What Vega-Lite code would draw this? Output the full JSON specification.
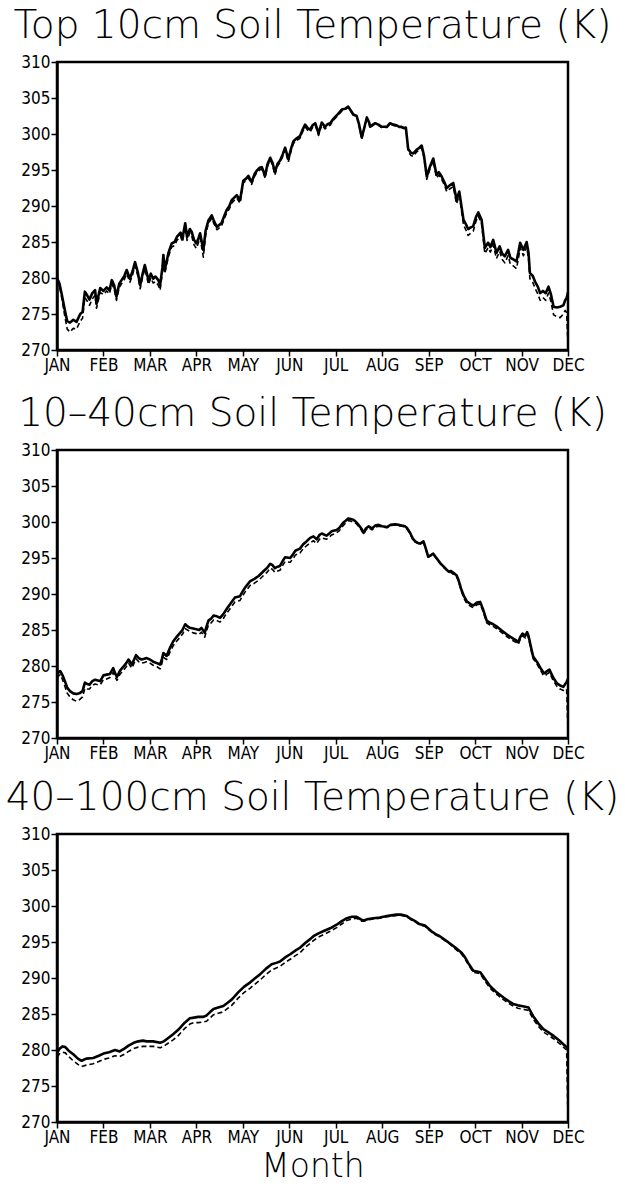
{
  "$schema": "https://vega.github.io/schema/vega-lite/v6.json",
  "background": "white",
  "padding": {"left": 4, "top": 5, "right": 10, "bottom": 0},
  "config": {
    "view": {"stroke": "black", "strokeWidth": 2.5},
    "axis": {
      "grid": false,
      "domainColor": "black",
      "domainWidth": 2.5,
      "tickColor": "black",
      "tickWidth": 1.5,
      "tickSize": 6,
      "labelColor": "black",
      "labelFont": "DejaVu Sans Condensed, Liberation Sans, sans-serif",
      "labelFontSize": 17,
      "labelPadding": 1,
      "titleColor": "black",
      "titleFont": "DejaVu Sans",
      "titleFontWeight": 200,
      "titleFontSize": 33
    },
    "title": {"font": "DejaVu Sans", "fontWeight": 200, "fontSize": 39, "color": "black", "offset": 7, "frame": "group", "anchor": "middle"},
    "line": {"color": "black", "strokeJoin": "round"}
  },
  "spacing": 18,
  "datasets": {
    "top": [
      {"month":0,"temp":280.0,"run":"A"},{"month":0.05,"temp":279.3,"run":"A"},{"month":0.1,"temp":277.8,"run":"A"},{"month":0.17,"temp":275.5,"run":"A"},{"month":0.22,"temp":274.0,"run":"A"},{"month":0.28,"temp":273.8,"run":"A"},{"month":0.35,"temp":274.2,"run":"A"},{"month":0.42,"temp":273.9,"run":"A"},{"month":0.5,"temp":275.0,"run":"A"},{"month":0.55,"temp":275.3,"run":"A"},
      {"month":0.6,"temp":278.1,"run":"A"},{"month":0.65,"temp":277.6,"run":"A"},{"month":0.7,"temp":277.0,"run":"A"},{"month":0.76,"temp":277.9,"run":"A"},{"month":0.82,"temp":278.3,"run":"A"},{"month":0.85,"temp":276.4,"run":"A"},{"month":0.93,"temp":278.6,"run":"A"},{"month":1.0,"temp":278.2,"run":"A"},{"month":1.07,"temp":278.7,"run":"A"},{"month":1.13,"temp":278.3,"run":"A"},
      {"month":1.18,"temp":279.7,"run":"A"},{"month":1.23,"temp":279.0,"run":"A"},{"month":1.28,"temp":277.4,"run":"A"},{"month":1.34,"temp":279.2,"run":"A"},{"month":1.39,"temp":279.7,"run":"A"},{"month":1.45,"temp":280.3,"run":"A"},{"month":1.5,"temp":281.1,"run":"A"},{"month":1.57,"temp":279.9,"run":"A"},{"month":1.63,"temp":281.0,"run":"A"},{"month":1.68,"temp":282.2,"run":"A"},
      {"month":1.74,"temp":280.8,"run":"A"},{"month":1.79,"temp":279.0,"run":"A"},{"month":1.84,"temp":280.5,"run":"A"},{"month":1.89,"temp":281.8,"run":"A"},{"month":1.97,"temp":279.7,"run":"A"},{"month":2.02,"temp":280.6,"run":"A"},{"month":2.07,"temp":279.9,"run":"A"},{"month":2.12,"temp":280.2,"run":"A"},{"month":2.18,"temp":279.7,"run":"A"},{"month":2.22,"temp":279.0,"run":"A"},
      {"month":2.27,"temp":281.5,"run":"A"},{"month":2.29,"temp":283.2,"run":"A"},{"month":2.32,"temp":281.1,"run":"A"},{"month":2.4,"temp":283.5,"run":"A"},{"month":2.47,"temp":284.8,"run":"A"},{"month":2.53,"temp":285.0,"run":"A"},{"month":2.58,"temp":285.7,"run":"A"},{"month":2.66,"temp":286.3,"run":"A"},{"month":2.7,"temp":285.5,"run":"A"},{"month":2.76,"temp":287.6,"run":"A"},
      {"month":2.8,"temp":285.7,"run":"A"},{"month":2.86,"temp":286.8,"run":"A"},{"month":2.9,"temp":286.4,"run":"A"},{"month":2.95,"temp":285.3,"run":"A"},{"month":3.0,"temp":284.8,"run":"A"},{"month":3.05,"temp":285.6,"run":"A"},{"month":3.08,"temp":286.2,"run":"A"},{"month":3.15,"temp":283.9,"run":"A"},{"month":3.2,"temp":286.6,"run":"A"},{"month":3.26,"temp":288.0,"run":"A"},
      {"month":3.33,"temp":288.7,"run":"A"},{"month":3.38,"temp":287.9,"run":"A"},{"month":3.44,"temp":287.1,"run":"A"},{"month":3.54,"temp":287.6,"run":"A"},{"month":3.6,"temp":288.6,"run":"A"},{"month":3.65,"temp":289.4,"run":"A"},{"month":3.71,"temp":290.0,"run":"A"},{"month":3.76,"temp":290.8,"run":"A"},{"month":3.82,"temp":291.2,"run":"A"},{"month":3.87,"temp":291.5,"run":"A"},
      {"month":3.94,"temp":290.8,"run":"A"},{"month":4.01,"temp":293.5,"run":"A"},{"month":4.07,"temp":293.8,"run":"A"},{"month":4.12,"temp":294.2,"run":"A"},{"month":4.19,"temp":293.3,"run":"A"},{"month":4.25,"temp":294.4,"run":"A"},{"month":4.3,"temp":294.9,"run":"A"},{"month":4.36,"temp":295.3,"run":"A"},{"month":4.41,"temp":295.4,"run":"A"},{"month":4.48,"temp":294.2,"run":"A"},
      {"month":4.53,"temp":295.8,"run":"A"},{"month":4.59,"temp":296.7,"run":"A"},{"month":4.64,"temp":296.0,"run":"A"},{"month":4.69,"temp":294.7,"run":"A"},{"month":4.75,"temp":295.9,"run":"A"},{"month":4.8,"temp":296.3,"run":"A"},{"month":4.86,"temp":297.2,"run":"A"},{"month":4.91,"temp":298.1,"run":"A"},{"month":4.98,"temp":296.5,"run":"A"},{"month":5.04,"temp":298.0,"run":"A"},
      {"month":5.09,"temp":299.0,"run":"A"},{"month":5.16,"temp":299.4,"run":"A"},{"month":5.23,"temp":299.7,"run":"A"},{"month":5.28,"temp":300.5,"run":"A"},{"month":5.34,"temp":301.3,"run":"A"},{"month":5.4,"temp":300.8,"run":"A"},{"month":5.45,"temp":300.6,"run":"A"},{"month":5.5,"temp":301.2,"run":"A"},{"month":5.56,"temp":301.5,"run":"A"},{"month":5.6,"temp":300.7,"run":"A"},
      {"month":5.63,"temp":300.1,"run":"A"},{"month":5.7,"temp":301.6,"run":"A"},{"month":5.77,"temp":301.0,"run":"A"},{"month":5.83,"temp":301.4,"run":"A"},{"month":5.88,"temp":301.5,"run":"A"},{"month":5.95,"temp":302.1,"run":"A"},{"month":6.02,"temp":302.6,"run":"A"},{"month":6.08,"temp":303.0,"run":"A"},{"month":6.13,"temp":303.4,"run":"A"},{"month":6.2,"temp":303.5,"run":"A"},
      {"month":6.27,"temp":303.8,"run":"A"},{"month":6.32,"temp":303.3,"run":"A"},{"month":6.38,"temp":302.7,"run":"A"},{"month":6.45,"temp":302.5,"run":"A"},{"month":6.5,"temp":301.4,"run":"A"},{"month":6.56,"temp":299.5,"run":"A"},{"month":6.62,"temp":301.0,"run":"A"},{"month":6.67,"temp":302.3,"run":"A"},{"month":6.72,"temp":301.6,"run":"A"},{"month":6.74,"temp":301.0,"run":"A"},
      {"month":6.8,"temp":301.3,"run":"A"},{"month":6.85,"temp":301.5,"run":"A"},{"month":6.92,"temp":301.3,"run":"A"},{"month":6.99,"temp":301.0,"run":"A"},{"month":7.05,"temp":301.0,"run":"A"},{"month":7.1,"temp":301.0,"run":"A"},{"month":7.17,"temp":301.5,"run":"A"},{"month":7.24,"temp":301.3,"run":"A"},{"month":7.31,"temp":301.2,"run":"A"},{"month":7.37,"temp":301.0,"run":"A"},
      {"month":7.42,"temp":301.0,"run":"A"},{"month":7.48,"temp":300.8,"run":"A"},{"month":7.51,"temp":300.9,"run":"A"},{"month":7.56,"temp":297.9,"run":"A"},{"month":7.62,"temp":297.4,"run":"A"},{"month":7.67,"temp":297.3,"run":"A"},{"month":7.74,"temp":297.8,"run":"A"},{"month":7.8,"temp":298.1,"run":"A"},{"month":7.85,"temp":298.4,"run":"A"},{"month":7.9,"temp":297.0,"run":"A"},
      {"month":7.96,"temp":294.1,"run":"A"},{"month":8.03,"temp":295.5,"run":"A"},{"month":8.1,"temp":296.6,"run":"A"},{"month":8.17,"temp":294.3,"run":"A"},{"month":8.22,"temp":294.7,"run":"A"},{"month":8.28,"temp":294.1,"run":"A"},{"month":8.34,"temp":293.3,"run":"A"},{"month":8.39,"temp":292.5,"run":"A"},{"month":8.46,"temp":292.9,"run":"A"},{"month":8.53,"temp":293.2,"run":"A"},
      {"month":8.6,"temp":290.9,"run":"A"},{"month":8.66,"temp":292.0,"run":"A"},{"month":8.75,"temp":288.1,"run":"A"},{"month":8.8,"temp":287.5,"run":"A"},{"month":8.85,"temp":286.8,"run":"A"},{"month":8.9,"temp":287.0,"run":"A"},{"month":8.96,"temp":287.2,"run":"A"},{"month":9.02,"temp":288.5,"run":"A"},{"month":9.07,"temp":289.1,"run":"A"},{"month":9.14,"temp":288.1,"run":"A"},
      {"month":9.21,"temp":284.2,"run":"A"},{"month":9.28,"temp":284.9,"run":"A"},{"month":9.33,"temp":284.3,"run":"A"},{"month":9.39,"temp":285.3,"run":"A"},{"month":9.46,"temp":283.5,"run":"A"},{"month":9.53,"temp":284.4,"run":"A"},{"month":9.58,"temp":283.4,"run":"A"},{"month":9.64,"temp":283.0,"run":"A"},{"month":9.71,"temp":283.9,"run":"A"},{"month":9.76,"temp":282.8,"run":"A"},
      {"month":9.82,"temp":282.6,"run":"A"},{"month":9.89,"temp":282.3,"run":"A"},{"month":9.93,"temp":283.5,"run":"A"},{"month":9.97,"temp":284.9,"run":"A"},{"month":10.04,"temp":283.9,"run":"A"},{"month":10.11,"temp":285.0,"run":"A"},{"month":10.15,"temp":283.5,"run":"A"},{"month":10.18,"temp":280.7,"run":"A"},{"month":10.24,"temp":280.3,"run":"A"},{"month":10.29,"temp":279.5,"run":"A"},
      {"month":10.35,"temp":278.8,"run":"A"},{"month":10.4,"temp":277.9,"run":"A"},{"month":10.46,"temp":278.2,"run":"A"},{"month":10.52,"temp":277.9,"run":"A"},{"month":10.58,"temp":278.8,"run":"A"},{"month":10.63,"temp":277.8,"run":"A"},{"month":10.69,"temp":276.0,"run":"A"},{"month":10.76,"temp":275.9,"run":"A"},{"month":10.83,"temp":276.0,"run":"A"},{"month":10.9,"temp":276.2,"run":"A"},
      {"month":10.94,"temp":276.9,"run":"A"},{"month":10.97,"temp":277.2,"run":"A"},{"month":11.0,"temp":278.0,"run":"A"},
      {"month":0,"temp":279.7,"run":"B"},{"month":0.05,"temp":279.0,"run":"B"},{"month":0.1,"temp":277.3,"run":"B"},{"month":0.17,"temp":274.6,"run":"B"},{"month":0.22,"temp":272.9,"run":"B"},{"month":0.28,"temp":272.5,"run":"B"},{"month":0.35,"temp":273.0,"run":"B"},{"month":0.42,"temp":272.9,"run":"B"},{"month":0.5,"temp":274.0,"run":"B"},{"month":0.55,"temp":274.4,"run":"B"},
      {"month":0.6,"temp":277.3,"run":"B"},{"month":0.65,"temp":276.8,"run":"B"},{"month":0.7,"temp":276.2,"run":"B"},{"month":0.76,"temp":277.1,"run":"B"},{"month":0.82,"temp":277.6,"run":"B"},{"month":0.85,"temp":275.8,"run":"B"},{"month":0.93,"temp":278.0,"run":"B"},{"month":1.0,"temp":277.7,"run":"B"},{"month":1.07,"temp":278.2,"run":"B"},{"month":1.13,"temp":277.8,"run":"B"},
      {"month":1.18,"temp":279.2,"run":"B"},{"month":1.23,"temp":278.5,"run":"B"},{"month":1.28,"temp":276.9,"run":"B"},{"month":1.34,"temp":278.7,"run":"B"},{"month":1.39,"temp":279.2,"run":"B"},{"month":1.45,"temp":279.8,"run":"B"},{"month":1.5,"temp":280.6,"run":"B"},{"month":1.57,"temp":279.4,"run":"B"},{"month":1.63,"temp":280.5,"run":"B"},{"month":1.68,"temp":281.7,"run":"B"},
      {"month":1.74,"temp":280.3,"run":"B"},{"month":1.79,"temp":278.5,"run":"B"},{"month":1.84,"temp":280.0,"run":"B"},{"month":1.89,"temp":281.3,"run":"B"},{"month":1.97,"temp":279.1,"run":"B"},{"month":2.02,"temp":280.0,"run":"B"},{"month":2.07,"temp":279.3,"run":"B"},{"month":2.12,"temp":279.5,"run":"B"},{"month":2.18,"temp":279.0,"run":"B"},{"month":2.22,"temp":278.3,"run":"B"},
      {"month":2.27,"temp":280.9,"run":"B"},{"month":2.29,"temp":282.7,"run":"B"},{"month":2.32,"temp":280.6,"run":"B"},{"month":2.4,"temp":283.0,"run":"B"},{"month":2.47,"temp":284.3,"run":"B"},{"month":2.53,"temp":284.5,"run":"B"},{"month":2.58,"temp":285.2,"run":"B"},{"month":2.66,"temp":285.8,"run":"B"},{"month":2.7,"temp":285.0,"run":"B"},{"month":2.76,"temp":287.1,"run":"B"},
      {"month":2.8,"temp":285.2,"run":"B"},{"month":2.86,"temp":286.3,"run":"B"},{"month":2.9,"temp":285.8,"run":"B"},{"month":2.95,"temp":284.6,"run":"B"},{"month":3.0,"temp":284.1,"run":"B"},{"month":3.05,"temp":285.0,"run":"B"},{"month":3.08,"temp":285.6,"run":"B"},{"month":3.15,"temp":282.9,"run":"B"},{"month":3.2,"temp":286.0,"run":"B"},{"month":3.26,"temp":287.6,"run":"B"},
      {"month":3.33,"temp":288.3,"run":"B"},{"month":3.38,"temp":287.5,"run":"B"},{"month":3.44,"temp":286.7,"run":"B"},{"month":3.54,"temp":287.2,"run":"B"},{"month":3.6,"temp":288.2,"run":"B"},{"month":3.65,"temp":289.0,"run":"B"},{"month":3.71,"temp":289.6,"run":"B"},{"month":3.76,"temp":290.4,"run":"B"},{"month":3.82,"temp":290.8,"run":"B"},{"month":3.87,"temp":291.1,"run":"B"},
      {"month":3.94,"temp":290.4,"run":"B"},{"month":4.01,"temp":293.2,"run":"B"},{"month":4.07,"temp":293.5,"run":"B"},{"month":4.12,"temp":293.9,"run":"B"},{"month":4.19,"temp":293.0,"run":"B"},{"month":4.25,"temp":294.1,"run":"B"},{"month":4.3,"temp":294.6,"run":"B"},{"month":4.36,"temp":295.0,"run":"B"},{"month":4.41,"temp":295.1,"run":"B"},{"month":4.48,"temp":293.9,"run":"B"},
      {"month":4.53,"temp":295.5,"run":"B"},{"month":4.59,"temp":296.4,"run":"B"},{"month":4.64,"temp":295.7,"run":"B"},{"month":4.69,"temp":294.3,"run":"B"},{"month":4.75,"temp":295.6,"run":"B"},{"month":4.8,"temp":296.0,"run":"B"},{"month":4.86,"temp":296.9,"run":"B"},{"month":4.91,"temp":297.8,"run":"B"},{"month":4.98,"temp":296.1,"run":"B"},{"month":5.04,"temp":297.7,"run":"B"},
      {"month":5.09,"temp":298.7,"run":"B"},{"month":5.16,"temp":299.1,"run":"B"},{"month":5.23,"temp":299.4,"run":"B"},{"month":5.28,"temp":300.2,"run":"B"},{"month":5.34,"temp":301.0,"run":"B"},{"month":5.4,"temp":300.5,"run":"B"},{"month":5.45,"temp":300.3,"run":"B"},{"month":5.5,"temp":300.9,"run":"B"},{"month":5.56,"temp":301.2,"run":"B"},{"month":5.6,"temp":300.4,"run":"B"},
      {"month":5.63,"temp":299.8,"run":"B"},{"month":5.7,"temp":301.3,"run":"B"},{"month":5.77,"temp":300.7,"run":"B"},{"month":5.83,"temp":301.1,"run":"B"},{"month":5.88,"temp":301.2,"run":"B"},{"month":5.95,"temp":301.9,"run":"B"},{"month":6.02,"temp":302.4,"run":"B"},{"month":6.08,"temp":302.8,"run":"B"},{"month":6.13,"temp":303.2,"run":"B"},{"month":6.2,"temp":303.4,"run":"B"},
      {"month":6.27,"temp":303.7,"run":"B"},{"month":6.32,"temp":303.2,"run":"B"},{"month":6.38,"temp":302.6,"run":"B"},{"month":6.45,"temp":302.4,"run":"B"},{"month":6.5,"temp":301.3,"run":"B"},{"month":6.56,"temp":299.3,"run":"B"},{"month":6.62,"temp":300.9,"run":"B"},{"month":6.67,"temp":302.2,"run":"B"},{"month":6.72,"temp":301.5,"run":"B"},{"month":6.74,"temp":300.9,"run":"B"},
      {"month":6.8,"temp":301.2,"run":"B"},{"month":6.85,"temp":301.4,"run":"B"},{"month":6.92,"temp":301.2,"run":"B"},{"month":6.99,"temp":300.9,"run":"B"},{"month":7.05,"temp":300.9,"run":"B"},{"month":7.1,"temp":300.9,"run":"B"},{"month":7.17,"temp":301.4,"run":"B"},{"month":7.24,"temp":301.2,"run":"B"},{"month":7.31,"temp":301.1,"run":"B"},{"month":7.37,"temp":300.9,"run":"B"},
      {"month":7.42,"temp":300.9,"run":"B"},{"month":7.48,"temp":300.7,"run":"B"},{"month":7.51,"temp":300.7,"run":"B"},{"month":7.56,"temp":297.6,"run":"B"},{"month":7.62,"temp":297.0,"run":"B"},{"month":7.67,"temp":296.9,"run":"B"},{"month":7.74,"temp":297.5,"run":"B"},{"month":7.8,"temp":297.8,"run":"B"},{"month":7.85,"temp":298.1,"run":"B"},{"month":7.9,"temp":296.7,"run":"B"},
      {"month":7.96,"temp":293.7,"run":"B"},{"month":8.03,"temp":295.2,"run":"B"},{"month":8.1,"temp":296.3,"run":"B"},{"month":8.17,"temp":293.9,"run":"B"},{"month":8.22,"temp":294.3,"run":"B"},{"month":8.28,"temp":293.7,"run":"B"},{"month":8.34,"temp":292.9,"run":"B"},{"month":8.39,"temp":292.0,"run":"B"},{"month":8.46,"temp":292.4,"run":"B"},{"month":8.53,"temp":292.7,"run":"B"},
      {"month":8.6,"temp":290.3,"run":"B"},{"month":8.66,"temp":291.5,"run":"B"},{"month":8.75,"temp":287.4,"run":"B"},{"month":8.8,"temp":286.7,"run":"B"},{"month":8.85,"temp":285.9,"run":"B"},{"month":8.9,"temp":286.2,"run":"B"},{"month":8.96,"temp":286.5,"run":"B"},{"month":9.02,"temp":287.9,"run":"B"},{"month":9.07,"temp":288.6,"run":"B"},{"month":9.14,"temp":287.5,"run":"B"},
      {"month":9.21,"temp":283.4,"run":"B"},{"month":9.28,"temp":284.2,"run":"B"},{"month":9.33,"temp":283.6,"run":"B"},{"month":9.39,"temp":284.6,"run":"B"},{"month":9.46,"temp":282.7,"run":"B"},{"month":9.53,"temp":283.7,"run":"B"},{"month":9.58,"temp":282.6,"run":"B"},{"month":9.64,"temp":282.1,"run":"B"},{"month":9.71,"temp":283.1,"run":"B"},{"month":9.76,"temp":281.9,"run":"B"},
      {"month":9.82,"temp":281.7,"run":"B"},{"month":9.89,"temp":281.3,"run":"B"},{"month":9.93,"temp":282.6,"run":"B"},{"month":9.97,"temp":284.2,"run":"B"},{"month":10.04,"temp":283.1,"run":"B"},{"month":10.11,"temp":284.3,"run":"B"},{"month":10.15,"temp":282.7,"run":"B"},{"month":10.18,"temp":279.9,"run":"B"},{"month":10.24,"temp":279.4,"run":"B"},{"month":10.29,"temp":278.6,"run":"B"},
      {"month":10.35,"temp":277.8,"run":"B"},{"month":10.4,"temp":276.9,"run":"B"},{"month":10.46,"temp":277.3,"run":"B"},{"month":10.52,"temp":276.9,"run":"B"},{"month":10.58,"temp":277.9,"run":"B"},{"month":10.63,"temp":276.8,"run":"B"},{"month":10.69,"temp":274.9,"run":"B"},{"month":10.76,"temp":274.6,"run":"B"},{"month":10.83,"temp":274.5,"run":"B"},{"month":10.9,"temp":275.0,"run":"B"},
      {"month":10.94,"temp":275.5,"run":"B"},{"month":10.97,"temp":275.2,"run":"B"},{"month":11.0,"temp":270.6,"run":"B"}
    ],
    "mid": [
      {"month":0,"temp":278.8,"run":"A"},{"month":0.03,"temp":279.1,"run":"A"},{"month":0.07,"temp":279.3,"run":"A"},{"month":0.12,"temp":278.7,"run":"A"},{"month":0.17,"temp":277.9,"run":"A"},{"month":0.22,"temp":277.0,"run":"A"},{"month":0.28,"temp":276.5,"run":"A"},{"month":0.35,"temp":276.2,"run":"A"},{"month":0.42,"temp":276.1,"run":"A"},{"month":0.48,"temp":276.2,"run":"A"},
      {"month":0.55,"temp":276.5,"run":"A"},{"month":0.6,"temp":277.7,"run":"A"},{"month":0.65,"temp":277.5,"run":"A"},{"month":0.7,"temp":277.4,"run":"A"},{"month":0.76,"temp":277.9,"run":"A"},{"month":0.82,"temp":278.1,"run":"A"},{"month":0.88,"temp":278.0,"run":"A"},{"month":0.93,"temp":277.9,"run":"A"},{"month":1.0,"temp":278.7,"run":"A"},{"month":1.07,"temp":278.8,"run":"A"},
      {"month":1.14,"temp":278.9,"run":"A"},{"month":1.21,"temp":279.7,"run":"A"},{"month":1.25,"temp":279.0,"run":"A"},{"month":1.29,"temp":278.5,"run":"A"},{"month":1.36,"temp":279.4,"run":"A"},{"month":1.43,"temp":279.9,"run":"A"},{"month":1.49,"temp":280.4,"run":"A"},{"month":1.54,"temp":280.9,"run":"A"},{"month":1.61,"temp":280.2,"run":"A"},{"month":1.66,"temp":280.9,"run":"A"},
      {"month":1.7,"temp":281.5,"run":"A"},{"month":1.76,"temp":281.1,"run":"A"},{"month":1.82,"temp":280.9,"run":"A"},{"month":1.88,"temp":281.0,"run":"A"},{"month":1.93,"temp":281.1,"run":"A"},{"month":2.0,"temp":280.9,"run":"A"},{"month":2.07,"temp":280.6,"run":"A"},{"month":2.15,"temp":280.4,"run":"A"},{"month":2.22,"temp":280.2,"run":"A"},{"month":2.26,"temp":281.0,"run":"A"},
      {"month":2.29,"temp":281.8,"run":"A"},{"month":2.36,"temp":281.4,"run":"A"},{"month":2.43,"temp":282.5,"run":"A"},{"month":2.5,"temp":283.4,"run":"A"},{"month":2.57,"temp":284.0,"run":"A"},{"month":2.65,"temp":284.6,"run":"A"},{"month":2.7,"temp":285.0,"run":"A"},{"month":2.76,"temp":285.8,"run":"A"},{"month":2.81,"temp":285.5,"run":"A"},{"month":2.86,"temp":285.3,"run":"A"},
      {"month":2.93,"temp":285.2,"run":"A"},{"month":3.0,"temp":285.1,"run":"A"},{"month":3.06,"temp":285.0,"run":"A"},{"month":3.11,"temp":285.3,"run":"A"},{"month":3.18,"temp":284.6,"run":"A"},{"month":3.22,"temp":285.5,"run":"A"},{"month":3.26,"temp":286.3,"run":"A"},{"month":3.32,"temp":286.6,"run":"A"},{"month":3.37,"temp":287.0,"run":"A"},{"month":3.44,"temp":286.9,"run":"A"},
      {"month":3.51,"temp":286.7,"run":"A"},{"month":3.58,"temp":287.2,"run":"A"},{"month":3.65,"temp":287.9,"run":"A"},{"month":3.74,"temp":288.7,"run":"A"},{"month":3.83,"temp":289.5,"run":"A"},{"month":3.94,"temp":289.7,"run":"A"},{"month":4.0,"temp":290.4,"run":"A"},{"month":4.05,"temp":290.9,"run":"A"},{"month":4.1,"temp":291.3,"run":"A"},{"month":4.16,"temp":291.8,"run":"A"},
      {"month":4.25,"temp":292.1,"run":"A"},{"month":4.34,"temp":292.5,"run":"A"},{"month":4.45,"temp":293.2,"run":"A"},{"month":4.52,"temp":293.6,"run":"A"},{"month":4.59,"temp":294.2,"run":"A"},{"month":4.64,"temp":294.0,"run":"A"},{"month":4.69,"temp":293.6,"run":"A"},{"month":4.75,"temp":293.8,"run":"A"},{"month":4.8,"temp":293.9,"run":"A"},{"month":4.86,"temp":294.6,"run":"A"},
      {"month":4.91,"temp":295.1,"run":"A"},{"month":5.02,"temp":295.0,"run":"A"},{"month":5.08,"temp":295.5,"run":"A"},{"month":5.13,"temp":296.0,"run":"A"},{"month":5.23,"temp":296.3,"run":"A"},{"month":5.3,"temp":296.9,"run":"A"},{"month":5.37,"temp":297.3,"run":"A"},{"month":5.45,"temp":297.8,"run":"A"},{"month":5.52,"temp":298.0,"run":"A"},{"month":5.59,"temp":297.6,"run":"A"},
      {"month":5.65,"temp":298.2,"run":"A"},{"month":5.7,"temp":298.4,"run":"A"},{"month":5.8,"temp":298.1,"run":"A"},{"month":5.86,"temp":298.4,"run":"A"},{"month":5.91,"temp":298.7,"run":"A"},{"month":6.02,"temp":298.9,"run":"A"},{"month":6.08,"temp":299.2,"run":"A"},{"month":6.16,"temp":299.9,"run":"A"},{"month":6.22,"temp":300.2,"run":"A"},{"month":6.27,"temp":300.5,"run":"A"},
      {"month":6.33,"temp":300.4,"run":"A"},{"month":6.38,"temp":300.3,"run":"A"},{"month":6.44,"temp":300.0,"run":"A"},{"month":6.49,"temp":299.6,"run":"A"},{"month":6.55,"temp":299.1,"run":"A"},{"month":6.6,"temp":298.5,"run":"A"},{"month":6.65,"temp":299.1,"run":"A"},{"month":6.71,"temp":299.4,"run":"A"},{"month":6.78,"temp":299.1,"run":"A"},{"month":6.85,"temp":299.5,"run":"A"},
      {"month":6.92,"temp":299.6,"run":"A"},{"month":7.0,"temp":299.4,"run":"A"},{"month":7.1,"temp":299.3,"run":"A"},{"month":7.18,"temp":299.6,"run":"A"},{"month":7.28,"temp":299.7,"run":"A"},{"month":7.35,"temp":299.6,"run":"A"},{"month":7.42,"temp":299.5,"run":"A"},{"month":7.49,"temp":299.4,"run":"A"},{"month":7.53,"temp":299.2,"run":"A"},{"month":7.6,"temp":298.5,"run":"A"},
      {"month":7.66,"temp":297.7,"run":"A"},{"month":7.71,"temp":297.3,"run":"A"},{"month":7.77,"temp":297.1,"run":"A"},{"month":7.82,"temp":297.0,"run":"A"},{"month":7.89,"temp":297.3,"run":"A"},{"month":7.94,"temp":296.3,"run":"A"},{"month":7.99,"temp":295.2,"run":"A"},{"month":8.05,"temp":295.4,"run":"A"},{"month":8.1,"temp":295.6,"run":"A"},{"month":8.18,"temp":294.9,"run":"A"},
      {"month":8.25,"temp":294.3,"run":"A"},{"month":8.34,"temp":293.7,"run":"A"},{"month":8.43,"temp":293.1,"run":"A"},{"month":8.48,"temp":293.2,"run":"A"},{"month":8.54,"temp":292.9,"run":"A"},{"month":8.6,"temp":292.6,"run":"A"},{"month":8.64,"temp":292.0,"run":"A"},{"month":8.7,"temp":290.7,"run":"A"},{"month":8.76,"temp":289.7,"run":"A"},{"month":8.82,"temp":289.0,"run":"A"},
      {"month":8.9,"temp":288.6,"run":"A"},{"month":8.96,"temp":288.4,"run":"A"},{"month":9.04,"temp":288.8,"run":"A"},{"month":9.11,"temp":288.9,"run":"A"},{"month":9.17,"temp":287.9,"run":"A"},{"month":9.25,"temp":286.3,"run":"A"},{"month":9.32,"temp":286.0,"run":"A"},{"month":9.39,"temp":285.8,"run":"A"},{"month":9.46,"temp":285.5,"run":"A"},{"month":9.54,"temp":285.1,"run":"A"},
      {"month":9.6,"temp":284.8,"run":"A"},{"month":9.68,"temp":284.4,"run":"A"},{"month":9.75,"temp":284.1,"run":"A"},{"month":9.82,"temp":283.8,"run":"A"},{"month":9.88,"temp":283.6,"run":"A"},{"month":9.93,"temp":283.3,"run":"A"},{"month":9.97,"temp":284.0,"run":"A"},{"month":10.02,"temp":284.5,"run":"A"},{"month":10.08,"temp":284.2,"run":"A"},{"month":10.12,"temp":284.7,"run":"A"},
      {"month":10.15,"temp":284.2,"run":"A"},{"month":10.2,"temp":282.7,"run":"A"},{"month":10.25,"temp":281.3,"run":"A"},{"month":10.33,"temp":280.6,"run":"A"},{"month":10.4,"temp":279.8,"run":"A"},{"month":10.47,"temp":279.1,"run":"A"},{"month":10.5,"temp":279.0,"run":"A"},{"month":10.55,"temp":279.3,"run":"A"},{"month":10.6,"temp":279.5,"run":"A"},{"month":10.68,"temp":278.4,"run":"A"},
      {"month":10.76,"temp":277.6,"run":"A"},{"month":10.83,"temp":277.3,"run":"A"},{"month":10.9,"temp":277.1,"run":"A"},{"month":10.97,"temp":277.8,"run":"A"},{"month":11.0,"temp":278.2,"run":"A"},
      {"month":0,"temp":278.3,"run":"B"},{"month":0.03,"temp":278.6,"run":"B"},{"month":0.07,"temp":278.8,"run":"B"},{"month":0.12,"temp":278.1,"run":"B"},{"month":0.17,"temp":277.2,"run":"B"},{"month":0.22,"temp":276.2,"run":"B"},{"month":0.28,"temp":275.7,"run":"B"},{"month":0.35,"temp":275.3,"run":"B"},{"month":0.42,"temp":275.1,"run":"B"},{"month":0.48,"temp":275.3,"run":"B"},
      {"month":0.55,"temp":275.7,"run":"B"},{"month":0.6,"temp":276.9,"run":"B"},{"month":0.65,"temp":276.8,"run":"B"},{"month":0.7,"temp":276.8,"run":"B"},{"month":0.76,"temp":277.3,"run":"B"},{"month":0.82,"temp":277.5,"run":"B"},{"month":0.88,"temp":277.4,"run":"B"},{"month":0.93,"temp":277.4,"run":"B"},{"month":1.0,"temp":278.1,"run":"B"},{"month":1.07,"temp":278.2,"run":"B"},
      {"month":1.14,"temp":278.4,"run":"B"},{"month":1.21,"temp":279.1,"run":"B"},{"month":1.25,"temp":278.5,"run":"B"},{"month":1.29,"temp":278.0,"run":"B"},{"month":1.36,"temp":278.9,"run":"B"},{"month":1.43,"temp":279.4,"run":"B"},{"month":1.49,"temp":279.9,"run":"B"},{"month":1.54,"temp":280.4,"run":"B"},{"month":1.61,"temp":279.7,"run":"B"},{"month":1.66,"temp":280.4,"run":"B"},
      {"month":1.7,"temp":281.0,"run":"B"},{"month":1.76,"temp":280.6,"run":"B"},{"month":1.82,"temp":280.4,"run":"B"},{"month":1.88,"temp":280.5,"run":"B"},{"month":1.93,"temp":280.6,"run":"B"},{"month":2.0,"temp":280.4,"run":"B"},{"month":2.07,"temp":280.1,"run":"B"},{"month":2.15,"temp":279.9,"run":"B"},{"month":2.22,"temp":279.6,"run":"B"},{"month":2.26,"temp":280.4,"run":"B"},
      {"month":2.29,"temp":281.2,"run":"B"},{"month":2.36,"temp":280.9,"run":"B"},{"month":2.43,"temp":281.9,"run":"B"},{"month":2.5,"temp":282.8,"run":"B"},{"month":2.57,"temp":283.4,"run":"B"},{"month":2.65,"temp":284.0,"run":"B"},{"month":2.7,"temp":284.4,"run":"B"},{"month":2.76,"temp":285.2,"run":"B"},{"month":2.81,"temp":285.0,"run":"B"},{"month":2.86,"temp":284.8,"run":"B"},
      {"month":2.93,"temp":284.6,"run":"B"},{"month":3.0,"temp":284.5,"run":"B"},{"month":3.06,"temp":284.4,"run":"B"},{"month":3.11,"temp":284.7,"run":"B"},{"month":3.18,"temp":284.0,"run":"B"},{"month":3.22,"temp":284.9,"run":"B"},{"month":3.26,"temp":285.7,"run":"B"},{"month":3.32,"temp":286.0,"run":"B"},{"month":3.37,"temp":286.4,"run":"B"},{"month":3.44,"temp":286.3,"run":"B"},
      {"month":3.51,"temp":286.1,"run":"B"},{"month":3.58,"temp":286.6,"run":"B"},{"month":3.65,"temp":287.3,"run":"B"},{"month":3.74,"temp":288.1,"run":"B"},{"month":3.83,"temp":288.9,"run":"B"},{"month":3.94,"temp":289.1,"run":"B"},{"month":4.0,"temp":289.8,"run":"B"},{"month":4.05,"temp":290.3,"run":"B"},{"month":4.1,"temp":290.7,"run":"B"},{"month":4.16,"temp":291.2,"run":"B"},
      {"month":4.25,"temp":291.5,"run":"B"},{"month":4.34,"temp":291.9,"run":"B"},{"month":4.45,"temp":292.6,"run":"B"},{"month":4.52,"temp":293.0,"run":"B"},{"month":4.59,"temp":293.6,"run":"B"},{"month":4.64,"temp":293.4,"run":"B"},{"month":4.69,"temp":293.0,"run":"B"},{"month":4.75,"temp":293.2,"run":"B"},{"month":4.8,"temp":293.3,"run":"B"},{"month":4.86,"temp":294.0,"run":"B"},
      {"month":4.91,"temp":294.5,"run":"B"},{"month":5.02,"temp":294.4,"run":"B"},{"month":5.08,"temp":294.9,"run":"B"},{"month":5.13,"temp":295.4,"run":"B"},{"month":5.23,"temp":295.7,"run":"B"},{"month":5.3,"temp":296.3,"run":"B"},{"month":5.37,"temp":296.7,"run":"B"},{"month":5.45,"temp":297.1,"run":"B"},{"month":5.52,"temp":297.4,"run":"B"},{"month":5.59,"temp":297.0,"run":"B"},
      {"month":5.65,"temp":297.6,"run":"B"},{"month":5.7,"temp":297.8,"run":"B"},{"month":5.8,"temp":297.6,"run":"B"},{"month":5.86,"temp":297.9,"run":"B"},{"month":5.91,"temp":298.2,"run":"B"},{"month":6.02,"temp":298.5,"run":"B"},{"month":6.08,"temp":298.8,"run":"B"},{"month":6.16,"temp":299.5,"run":"B"},{"month":6.22,"temp":299.9,"run":"B"},{"month":6.27,"temp":300.2,"run":"B"},
      {"month":6.33,"temp":300.1,"run":"B"},{"month":6.38,"temp":300.0,"run":"B"},{"month":6.44,"temp":299.8,"run":"B"},{"month":6.49,"temp":299.4,"run":"B"},{"month":6.55,"temp":298.9,"run":"B"},{"month":6.6,"temp":298.3,"run":"B"},{"month":6.65,"temp":298.9,"run":"B"},{"month":6.71,"temp":299.2,"run":"B"},{"month":6.78,"temp":298.9,"run":"B"},{"month":6.85,"temp":299.3,"run":"B"},
      {"month":6.92,"temp":299.4,"run":"B"},{"month":7.0,"temp":299.3,"run":"B"},{"month":7.1,"temp":299.2,"run":"B"},{"month":7.18,"temp":299.5,"run":"B"},{"month":7.28,"temp":299.6,"run":"B"},{"month":7.35,"temp":299.5,"run":"B"},{"month":7.42,"temp":299.4,"run":"B"},{"month":7.49,"temp":299.3,"run":"B"},{"month":7.53,"temp":299.1,"run":"B"},{"month":7.6,"temp":298.4,"run":"B"},
      {"month":7.66,"temp":297.6,"run":"B"},{"month":7.71,"temp":297.2,"run":"B"},{"month":7.77,"temp":297.0,"run":"B"},{"month":7.82,"temp":296.9,"run":"B"},{"month":7.89,"temp":297.2,"run":"B"},{"month":7.94,"temp":296.2,"run":"B"},{"month":7.99,"temp":295.1,"run":"B"},{"month":8.05,"temp":295.3,"run":"B"},{"month":8.1,"temp":295.5,"run":"B"},{"month":8.18,"temp":294.8,"run":"B"},
      {"month":8.25,"temp":294.2,"run":"B"},{"month":8.34,"temp":293.6,"run":"B"},{"month":8.43,"temp":293.0,"run":"B"},{"month":8.48,"temp":293.0,"run":"B"},{"month":8.54,"temp":292.7,"run":"B"},{"month":8.6,"temp":292.4,"run":"B"},{"month":8.64,"temp":291.8,"run":"B"},{"month":8.7,"temp":290.5,"run":"B"},{"month":8.76,"temp":289.4,"run":"B"},{"month":8.82,"temp":288.7,"run":"B"},
      {"month":8.9,"temp":288.3,"run":"B"},{"month":8.96,"temp":288.1,"run":"B"},{"month":9.04,"temp":288.5,"run":"B"},{"month":9.11,"temp":288.6,"run":"B"},{"month":9.17,"temp":287.6,"run":"B"},{"month":9.25,"temp":286.0,"run":"B"},{"month":9.32,"temp":285.7,"run":"B"},{"month":9.39,"temp":285.5,"run":"B"},{"month":9.46,"temp":285.2,"run":"B"},{"month":9.54,"temp":284.8,"run":"B"},
      {"month":9.6,"temp":284.5,"run":"B"},{"month":9.68,"temp":284.1,"run":"B"},{"month":9.75,"temp":283.8,"run":"B"},{"month":9.82,"temp":283.5,"run":"B"},{"month":9.88,"temp":283.3,"run":"B"},{"month":9.93,"temp":283.0,"run":"B"},{"month":9.97,"temp":283.7,"run":"B"},{"month":10.02,"temp":284.2,"run":"B"},{"month":10.08,"temp":283.9,"run":"B"},{"month":10.12,"temp":284.4,"run":"B"},
      {"month":10.15,"temp":283.9,"run":"B"},{"month":10.2,"temp":282.4,"run":"B"},{"month":10.25,"temp":281.0,"run":"B"},{"month":10.33,"temp":280.3,"run":"B"},{"month":10.4,"temp":279.5,"run":"B"},{"month":10.47,"temp":278.7,"run":"B"},{"month":10.5,"temp":278.6,"run":"B"},{"month":10.55,"temp":278.9,"run":"B"},{"month":10.6,"temp":279.1,"run":"B"},{"month":10.68,"temp":278.0,"run":"B"},
      {"month":10.76,"temp":277.2,"run":"B"},{"month":10.83,"temp":276.8,"run":"B"},{"month":10.9,"temp":276.6,"run":"B"},{"month":10.97,"temp":276.8,"run":"B"},{"month":11.0,"temp":271.0,"run":"B"}
    ],
    "deep": [
      {"month":0,"temp":279.6,"run":"A"},{"month":0.06,"temp":280.2,"run":"A"},{"month":0.12,"temp":280.5,"run":"A"},{"month":0.18,"temp":280.4,"run":"A"},{"month":0.25,"temp":279.9,"run":"A"},{"month":0.35,"temp":279.4,"run":"A"},{"month":0.45,"temp":278.8,"run":"A"},{"month":0.53,"temp":278.5,"run":"A"},{"month":0.63,"temp":278.8,"run":"A"},{"month":0.78,"temp":278.9,"run":"A"},
      {"month":0.9,"temp":279.2,"run":"A"},{"month":1.0,"temp":279.5,"run":"A"},{"month":1.12,"temp":279.7,"run":"A"},{"month":1.25,"temp":280.0,"run":"A"},{"month":1.35,"temp":279.8,"run":"A"},{"month":1.45,"temp":280.2,"run":"A"},{"month":1.54,"temp":280.6,"run":"A"},{"month":1.65,"temp":281.0,"run":"A"},{"month":1.75,"temp":281.2,"run":"A"},{"month":1.85,"temp":281.3,"run":"A"},
      {"month":1.93,"temp":281.2,"run":"A"},{"month":2.07,"temp":281.2,"run":"A"},{"month":2.22,"temp":281.0,"run":"A"},{"month":2.3,"temp":281.2,"run":"A"},{"month":2.36,"temp":281.5,"run":"A"},{"month":2.5,"temp":282.2,"run":"A"},{"month":2.61,"temp":282.8,"run":"A"},{"month":2.75,"temp":283.8,"run":"A"},{"month":2.86,"temp":284.4,"run":"A"},{"month":2.95,"temp":284.5,"run":"A"},
      {"month":3.04,"temp":284.6,"run":"A"},{"month":3.15,"temp":284.6,"run":"A"},{"month":3.22,"temp":284.8,"run":"A"},{"month":3.3,"temp":285.3,"run":"A"},{"month":3.37,"temp":285.7,"run":"A"},{"month":3.47,"temp":285.9,"run":"A"},{"month":3.58,"temp":286.1,"run":"A"},{"month":3.68,"temp":286.6,"run":"A"},{"month":3.76,"temp":287.0,"run":"A"},{"month":3.9,"temp":288.0,"run":"A"},
      {"month":4.03,"temp":288.8,"run":"A"},{"month":4.16,"temp":289.4,"run":"A"},{"month":4.27,"temp":290.0,"run":"A"},{"month":4.37,"temp":290.5,"run":"A"},{"month":4.5,"temp":291.3,"run":"A"},{"month":4.62,"temp":291.9,"run":"A"},{"month":4.72,"temp":292.1,"run":"A"},{"month":4.8,"temp":292.3,"run":"A"},{"month":4.92,"temp":292.9,"run":"A"},{"month":5.02,"temp":293.3,"run":"A"},
      {"month":5.13,"temp":293.8,"run":"A"},{"month":5.23,"temp":294.2,"run":"A"},{"month":5.35,"temp":294.9,"run":"A"},{"month":5.45,"temp":295.4,"run":"A"},{"month":5.52,"temp":295.8,"run":"A"},{"month":5.63,"temp":296.2,"run":"A"},{"month":5.73,"temp":296.5,"run":"A"},{"month":5.88,"temp":296.9,"run":"A"},{"month":6.02,"temp":297.4,"run":"A"},{"month":6.13,"temp":297.9,"run":"A"},
      {"month":6.24,"temp":298.3,"run":"A"},{"month":6.35,"temp":298.5,"run":"A"},{"month":6.45,"temp":298.5,"run":"A"},{"month":6.55,"temp":298.1,"run":"A"},{"month":6.6,"temp":298.0,"run":"A"},{"month":6.7,"temp":298.2,"run":"A"},{"month":6.81,"temp":298.3,"run":"A"},{"month":6.95,"temp":298.4,"run":"A"},{"month":7.1,"temp":298.6,"run":"A"},{"month":7.2,"temp":298.7,"run":"A"},
      {"month":7.31,"temp":298.8,"run":"A"},{"month":7.42,"temp":298.8,"run":"A"},{"month":7.53,"temp":298.6,"run":"A"},{"month":7.62,"temp":298.2,"run":"A"},{"month":7.71,"temp":297.9,"run":"A"},{"month":7.8,"temp":297.5,"run":"A"},{"month":7.92,"temp":297.3,"run":"A"},{"month":8.06,"temp":296.5,"run":"A"},{"month":8.15,"temp":296.1,"run":"A"},{"month":8.24,"temp":295.8,"run":"A"},
      {"month":8.35,"temp":295.3,"run":"A"},{"month":8.46,"temp":294.8,"run":"A"},{"month":8.58,"temp":294.2,"run":"A"},{"month":8.71,"temp":293.5,"run":"A"},{"month":8.78,"temp":292.9,"run":"A"},{"month":8.85,"temp":292.1,"run":"A"},{"month":8.96,"temp":291.0,"run":"A"},{"month":9.04,"temp":290.9,"run":"A"},{"month":9.11,"temp":290.8,"run":"A"},{"month":9.2,"temp":290.0,"run":"A"},
      {"month":9.32,"temp":288.9,"run":"A"},{"month":9.45,"temp":288.1,"run":"A"},{"month":9.61,"temp":287.3,"run":"A"},{"month":9.72,"temp":286.8,"run":"A"},{"month":9.82,"temp":286.4,"run":"A"},{"month":9.92,"temp":286.2,"run":"A"},{"month":10.0,"temp":286.1,"run":"A"},{"month":10.08,"temp":286.0,"run":"A"},{"month":10.15,"temp":285.9,"run":"A"},{"month":10.25,"temp":284.7,"run":"A"},
      {"month":10.36,"temp":283.7,"run":"A"},{"month":10.47,"temp":282.9,"run":"A"},{"month":10.57,"temp":282.5,"run":"A"},{"month":10.68,"temp":282.0,"run":"A"},{"month":10.8,"temp":281.4,"run":"A"},{"month":10.9,"temp":280.8,"run":"A"},{"month":10.97,"temp":280.4,"run":"A"},{"month":11.0,"temp":280.2,"run":"A"},
      {"month":0,"temp":279.0,"run":"B"},{"month":0.06,"temp":279.5,"run":"B"},{"month":0.12,"temp":279.7,"run":"B"},{"month":0.18,"temp":279.6,"run":"B"},{"month":0.25,"temp":279.1,"run":"B"},{"month":0.35,"temp":278.5,"run":"B"},{"month":0.45,"temp":278.0,"run":"B"},{"month":0.53,"temp":277.7,"run":"B"},{"month":0.63,"temp":277.9,"run":"B"},{"month":0.78,"temp":278.1,"run":"B"},
      {"month":0.9,"temp":278.4,"run":"B"},{"month":1.0,"temp":278.7,"run":"B"},{"month":1.12,"temp":278.9,"run":"B"},{"month":1.25,"temp":279.2,"run":"B"},{"month":1.35,"temp":279.1,"run":"B"},{"month":1.45,"temp":279.4,"run":"B"},{"month":1.54,"temp":279.8,"run":"B"},{"month":1.65,"temp":280.2,"run":"B"},{"month":1.75,"temp":280.4,"run":"B"},{"month":1.85,"temp":280.5,"run":"B"},
      {"month":1.93,"temp":280.5,"run":"B"},{"month":2.07,"temp":280.5,"run":"B"},{"month":2.22,"temp":280.3,"run":"B"},{"month":2.3,"temp":280.5,"run":"B"},{"month":2.36,"temp":280.8,"run":"B"},{"month":2.5,"temp":281.4,"run":"B"},{"month":2.61,"temp":282.0,"run":"B"},{"month":2.75,"temp":283.0,"run":"B"},{"month":2.86,"temp":283.6,"run":"B"},{"month":2.95,"temp":283.8,"run":"B"},
      {"month":3.04,"temp":283.8,"run":"B"},{"month":3.15,"temp":283.9,"run":"B"},{"month":3.22,"temp":284.0,"run":"B"},{"month":3.3,"temp":284.5,"run":"B"},{"month":3.37,"temp":284.9,"run":"B"},{"month":3.47,"temp":285.1,"run":"B"},{"month":3.58,"temp":285.3,"run":"B"},{"month":3.68,"temp":285.8,"run":"B"},{"month":3.76,"temp":286.2,"run":"B"},{"month":3.9,"temp":287.2,"run":"B"},
      {"month":4.03,"temp":288.0,"run":"B"},{"month":4.16,"temp":288.6,"run":"B"},{"month":4.27,"temp":289.2,"run":"B"},{"month":4.37,"temp":289.7,"run":"B"},{"month":4.5,"temp":290.5,"run":"B"},{"month":4.62,"temp":291.1,"run":"B"},{"month":4.72,"temp":291.4,"run":"B"},{"month":4.8,"temp":291.6,"run":"B"},{"month":4.92,"temp":292.2,"run":"B"},{"month":5.02,"temp":292.6,"run":"B"},
      {"month":5.13,"temp":293.1,"run":"B"},{"month":5.23,"temp":293.5,"run":"B"},{"month":5.35,"temp":294.3,"run":"B"},{"month":5.45,"temp":294.8,"run":"B"},{"month":5.52,"temp":295.2,"run":"B"},{"month":5.63,"temp":295.7,"run":"B"},{"month":5.73,"temp":296.0,"run":"B"},{"month":5.88,"temp":296.5,"run":"B"},{"month":6.02,"temp":297.0,"run":"B"},{"month":6.13,"temp":297.5,"run":"B"},
      {"month":6.24,"temp":298.0,"run":"B"},{"month":6.35,"temp":298.2,"run":"B"},{"month":6.45,"temp":298.3,"run":"B"},{"month":6.55,"temp":297.9,"run":"B"},{"month":6.6,"temp":297.9,"run":"B"},{"month":6.7,"temp":298.1,"run":"B"},{"month":6.81,"temp":298.2,"run":"B"},{"month":6.95,"temp":298.3,"run":"B"},{"month":7.1,"temp":298.5,"run":"B"},{"month":7.2,"temp":298.6,"run":"B"},
      {"month":7.31,"temp":298.7,"run":"B"},{"month":7.42,"temp":298.7,"run":"B"},{"month":7.53,"temp":298.5,"run":"B"},{"month":7.62,"temp":298.1,"run":"B"},{"month":7.71,"temp":297.8,"run":"B"},{"month":7.8,"temp":297.4,"run":"B"},{"month":7.92,"temp":297.2,"run":"B"},{"month":8.06,"temp":296.4,"run":"B"},{"month":8.15,"temp":296.0,"run":"B"},{"month":8.24,"temp":295.7,"run":"B"},
      {"month":8.35,"temp":295.2,"run":"B"},{"month":8.46,"temp":294.7,"run":"B"},{"month":8.58,"temp":294.0,"run":"B"},{"month":8.71,"temp":293.3,"run":"B"},{"month":8.78,"temp":292.7,"run":"B"},{"month":8.85,"temp":291.9,"run":"B"},{"month":8.96,"temp":290.8,"run":"B"},{"month":9.04,"temp":290.7,"run":"B"},{"month":9.11,"temp":290.6,"run":"B"},{"month":9.2,"temp":289.7,"run":"B"},
      {"month":9.32,"temp":288.6,"run":"B"},{"month":9.45,"temp":287.8,"run":"B"},{"month":9.61,"temp":287.0,"run":"B"},{"month":9.72,"temp":286.5,"run":"B"},{"month":9.82,"temp":286.1,"run":"B"},{"month":9.92,"temp":285.8,"run":"B"},{"month":10.0,"temp":285.7,"run":"B"},{"month":10.08,"temp":285.6,"run":"B"},{"month":10.15,"temp":285.5,"run":"B"},{"month":10.25,"temp":284.3,"run":"B"},
      {"month":10.36,"temp":283.3,"run":"B"},{"month":10.47,"temp":282.5,"run":"B"},{"month":10.57,"temp":282.1,"run":"B"},{"month":10.68,"temp":281.6,"run":"B"},{"month":10.8,"temp":281.0,"run":"B"},{"month":10.9,"temp":280.4,"run":"B"},{"month":10.97,"temp":280.0,"run":"B"},{"month":11.0,"temp":270.5,"run":"B"}
    ]
  },
  "vconcat": [
    {
      "title": "Top 10cm Soil Temperature (K)",
      "width": 511,
      "height": 288,
      "data": {"name": "top"},
      "encoding": {
        "x": {"field": "month", "type": "quantitative", "scale": {"domain": [0, 11], "nice": false, "zero": false},
              "axis": {"title": null, "values": [0,1,2,3,4,5,6,7,8,9,10,11], "labelFlush": false, "labelExpr": "['JAN','FEB','MAR','APR','MAY','JUN','JUL','AUG','SEP','OCT','NOV','DEC'][datum.value]"}},
        "y": {"field": "temp", "type": "quantitative", "scale": {"domain": [270, 310], "nice": false, "zero": false},
              "axis": {"title": null, "values": [270,275,280,285,290,295,300,305,310], "labelFlush": false}}
      },
      "layer": [
        {"transform": [{"filter": "datum.run === 'B'"}], "mark": {"type": "line", "strokeWidth": 1.6, "strokeDash": [5, 3]}},
        {"transform": [{"filter": "datum.run === 'A'"}], "mark": {"type": "line", "strokeWidth": 2.6}}
      ]
    },
    {
      "spacing": 14,
      "vconcat": [
        {
          "title": "10–40cm Soil Temperature (K)",
          "width": 511,
          "height": 288,
          "data": {"name": "mid"},
          "encoding": {
            "x": {"field": "month", "type": "quantitative", "scale": {"domain": [0, 11], "nice": false, "zero": false},
                  "axis": {"title": null, "values": [0,1,2,3,4,5,6,7,8,9,10,11], "labelFlush": false, "labelExpr": "['JAN','FEB','MAR','APR','MAY','JUN','JUL','AUG','SEP','OCT','NOV','DEC'][datum.value]"}},
            "y": {"field": "temp", "type": "quantitative", "scale": {"domain": [270, 310], "nice": false, "zero": false},
                  "axis": {"title": null, "values": [270,275,280,285,290,295,300,305,310], "labelFlush": false}}
          },
          "layer": [
            {"transform": [{"filter": "datum.run === 'B'"}], "mark": {"type": "line", "strokeWidth": 1.6, "strokeDash": [5, 3]}},
            {"transform": [{"filter": "datum.run === 'A'"}], "mark": {"type": "line", "strokeWidth": 2.6}}
          ]
        },
        {
          "title": "40–100cm Soil Temperature (K)",
          "width": 511,
          "height": 288,
          "data": {"name": "deep"},
          "encoding": {
            "x": {"field": "month", "type": "quantitative", "scale": {"domain": [0, 11], "nice": false, "zero": false},
                  "axis": {"title": "Month", "titlePadding": 5, "values": [0,1,2,3,4,5,6,7,8,9,10,11], "labelFlush": false, "labelExpr": "['JAN','FEB','MAR','APR','MAY','JUN','JUL','AUG','SEP','OCT','NOV','DEC'][datum.value]"}},
            "y": {"field": "temp", "type": "quantitative", "scale": {"domain": [270, 310], "nice": false, "zero": false},
                  "axis": {"title": null, "values": [270,275,280,285,290,295,300,305,310], "labelFlush": false}}
          },
          "layer": [
            {"transform": [{"filter": "datum.run === 'B'"}], "mark": {"type": "line", "strokeWidth": 1.6, "strokeDash": [5, 3]}},
            {"transform": [{"filter": "datum.run === 'A'"}], "mark": {"type": "line", "strokeWidth": 2.6}}
          ]
        }
      ]
    }
  ]
}
